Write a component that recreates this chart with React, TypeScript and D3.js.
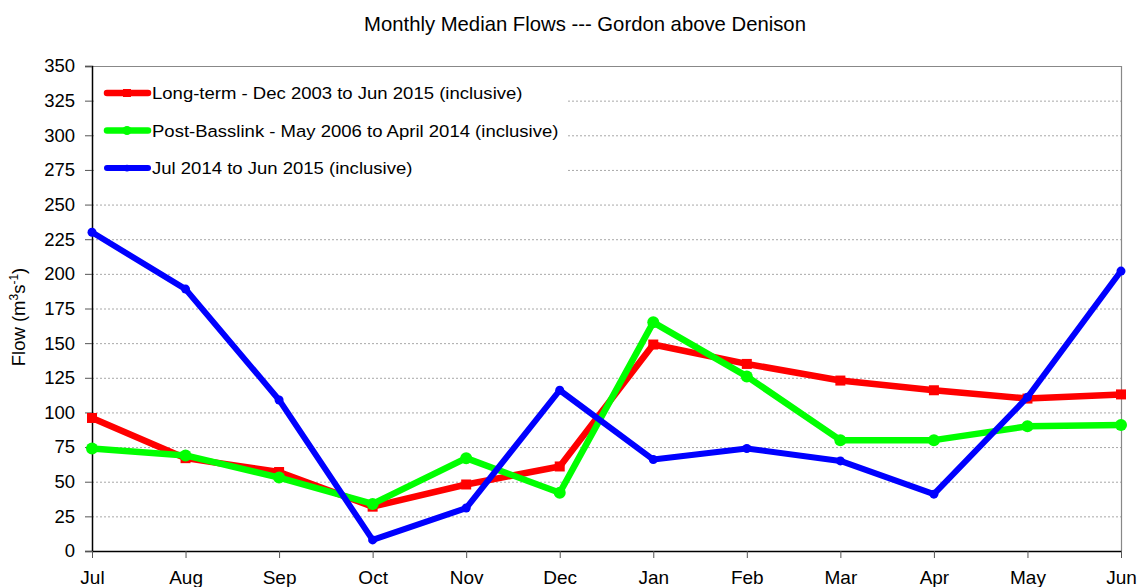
import React, { useEffect, useRef } from 'react';
import * as d3 from 'd3';

const months = ['Jul', 'Aug', 'Sep', 'Oct', 'Nov', 'Dec', 'Jan', 'Feb', 'Mar', 'Apr', 'May', 'Jun'];
const longTerm = [96, 67, 57, 32, 48, 61, 149, 135, 123, 116, 110, 113];
const postBasslink = [74, 69, 53, 34, 67, 42, 165, 126, 80, 80, 90, 91];
const recentYear = [230, 189, 109, 8, 31, 116, 66, 74, 65, 41, 111, 202];
const yTicks = [0, 25, 50, 75, 100, 125, 150, 175, 200, 225, 250, 275, 300, 325, 350];
const seriesNames = [
  'Long-term - Dec 2003 to Jun 2015 (inclusive)',
  'Post-Basslink - May 2006 to April 2014 (inclusive)',
  'Jul 2014 to Jun 2015 (inclusive)',
];

const W = 1141;
const H = 587;

export default function App() {
  const svgRef = useRef<SVGSVGElement>(null);

  useEffect(() => {
    if (!svgRef.current) return;
    const svg = d3.select(svgRef.current);
    svg.selectAll('*').remove();

    const left = 92, right = 1121, top = 66, bottom = 551;
    const font = 'Liberation Sans, Arial, sans-serif';

    const x = d3.scalePoint<string>().domain(months).range([left, right]);
    const y = d3.scaleLinear().domain([0, 350]).range([bottom, top]);

    // title
    svg.append('text')
      .attr('x', 585).attr('y', 31)
      .attr('text-anchor', 'middle')
      .attr('font-family', font).attr('font-size', 20.3)
      .text('Monthly Median Flows --- Gordon above Denison');

    // gridlines
    svg.append('g').selectAll('line')
      .data(yTicks.filter(t => t > 0 && t < 350))
      .join('line')
      .attr('x1', left).attr('x2', right)
      .attr('y1', d => y(d) + 0.5).attr('y2', d => y(d) + 0.5)
      .attr('stroke', '#a8a8a8').attr('stroke-dasharray', '2,2').attr('stroke-width', 1);

    // frame (top/right gray)
    svg.append('path')
      .attr('d', `M${left},${top + 0.5}H${right + 0.5}V${bottom}`)
      .attr('fill', 'none').attr('stroke', '#888').attr('stroke-width', 1.2);

    // legend background
    svg.append('rect')
      .attr('x', left + 2).attr('y', 70).attr('width', 474).attr('height', 120)
      .attr('fill', 'white');

    // y axis
    const yAxis = svg.append('g')
      .attr('transform', `translate(${left},0)`)
      .call(d3.axisLeft(y).tickValues(yTicks).tickSize(7).tickPadding(10));
    yAxis.select('.domain').attr('stroke', '#000').attr('stroke-width', 1.5);
    yAxis.selectAll('.tick line').attr('stroke', '#555');
    yAxis.selectAll('text').attr('font-family', font).attr('font-size', 18.5).attr('fill', '#000');

    // x axis
    const xAxis = svg.append('g')
      .attr('transform', `translate(0,${bottom})`)
      .call(d3.axisBottom(x).tickSize(7).tickPadding(13).tickSizeOuter(0));
    xAxis.select('.domain').attr('stroke', '#000').attr('stroke-width', 1.5);
    xAxis.selectAll('.tick line').attr('stroke', '#555');
    xAxis.selectAll('text').attr('font-family', font).attr('font-size', 19).attr('fill', '#000');

    // y label
    const yl = svg.append('text')
      .attr('transform', 'translate(25,317) rotate(-90)')
      .attr('text-anchor', 'middle')
      .attr('font-family', font).attr('font-size', 18.5);
    yl.append('tspan').text('Flow (m');
    yl.append('tspan').attr('font-size', 12).attr('dy', -7).text('3');
    yl.append('tspan').attr('font-size', 18.5).attr('dy', 7).text('s');
    yl.append('tspan').attr('font-size', 12).attr('dy', -7).text('-1');
    yl.append('tspan').attr('font-size', 18.5).attr('dy', 7).text(')');

    const line = d3.line<number>().x((_, i) => x(months[i])!).y(d => y(d));

    const series = [
      { data: longTerm, color: '#ff0000', width: 6.5, marker: 'square', size: 10 },
      { data: postBasslink, color: '#00ff00', width: 6.5, marker: 'circle', size: 6 },
      { data: recentYear, color: '#0000ff', width: 6, marker: 'circle', size: 4.5 },
    ];

    series.forEach(s => {
      svg.append('path')
        .attr('d', line(s.data))
        .attr('fill', 'none').attr('stroke', s.color)
        .attr('stroke-width', s.width).attr('stroke-linejoin', 'round');
      const g = svg.append('g').attr('fill', s.color);
      if (s.marker === 'square') {
        g.selectAll('rect').data(s.data).join('rect')
          .attr('x', (_, i) => x(months[i])! - s.size / 2)
          .attr('y', d => y(d) - s.size / 2)
          .attr('width', s.size).attr('height', s.size);
      } else {
        g.selectAll('circle').data(s.data).join('circle')
          .attr('cx', (_, i) => x(months[i])!)
          .attr('cy', d => y(d))
          .attr('r', s.size);
      }
    });

    // legend
    series.forEach((s, i) => {
      const ly = 93 + i * 37.5;
      svg.append('line')
        .attr('x1', 107).attr('x2', 148).attr('y1', ly).attr('y2', ly)
        .attr('stroke', s.color).attr('stroke-width', s.width).attr('stroke-linecap', 'round');
      if (s.marker === 'square') {
        svg.append('rect').attr('x', 127 - 4).attr('y', ly - 4).attr('width', 8).attr('height', 8).attr('fill', s.color);
      } else {
        svg.append('circle').attr('cx', 127).attr('cy', ly).attr('r', s.size * 0.75).attr('fill', s.color);
      }
      svg.append('text')
        .attr('transform', `translate(152,${ly + 6}) scale(1.09,1)`)
        .attr('font-family', font).attr('font-size', 17)
        .text(seriesNames[i]);
    });
  }, []);

  return <svg ref={svgRef} width={W} height={H} style={{ position: 'absolute', left: 0, top: 0, background: 'white' }} />;
}
